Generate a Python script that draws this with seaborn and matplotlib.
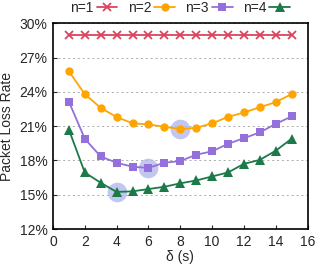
import numpy as np
import pandas as pd
import matplotlib
matplotlib.use("Agg")
import matplotlib.pyplot as plt
import seaborn as sns
from matplotlib.ticker import FuncFormatter

# 数据
delta = list(range(1, 16))
n1 = [29.0] * 15
n2 = [25.8, 23.8, 22.6, 21.8, 21.25, 21.15, 20.95, 20.75, 20.85, 21.25, 21.8, 22.2, 22.65, 23.1, 23.8]
n3 = [23.15, 19.9, 18.35, 17.8, 17.45, 17.35, 17.8, 17.95, 18.5, 18.8, 19.45, 19.95, 20.45, 21.2, 21.85]
n4 = [20.7, 16.95, 16.05, 15.25, 15.3, 15.5, 15.7, 16.0, 16.25, 16.6, 16.95, 17.7, 18.05, 18.85, 19.9]
labels = ["n=1", "n=2", "n=3", "n=4"]
highlight_x = [8, 6, 4]
highlight_y = [20.75, 17.35, 15.25]

df = pd.DataFrame({"delta": delta * 4,
                   "rate": n1 + n2 + n3 + n4,
                   "n": sum([[l] * 15 for l in labels], [])})

sns.set_style("ticks")
plt.rcParams['font.family'] = ['Liberation Sans', 'DejaVu Sans']

colors = ["#d9455f", "#ffa500", "#9370db", "#1b7a48"]
markers = ["x", "o", "s", "^"]
sizes = [6, 6, 5.5, 6.5]

fig, ax = plt.subplots(figsize=(3.19, 2.67), dpi=100)

# 高亮圆
ax.scatter(highlight_x, highlight_y, s=200, color="#b4b8ec", alpha=0.8, zorder=1, linewidths=0)

for lab, c, m, ms in zip(labels, colors, markers, sizes):
    sub = df[df["n"] == lab]
    sns.lineplot(data=sub, x="delta", y="rate", ax=ax, color=c, marker=m,
                 markersize=ms, markeredgecolor=c, markeredgewidth=1.3 if m == "x" else 0,
                 linewidth=1.3, label=lab, zorder=3)

ax.set_xlim(0, 16)
ax.set_ylim(12, 30)
ax.set_xticks(range(0, 17, 2))
ax.set_yticks(range(12, 31, 3))
ax.yaxis.set_major_formatter(FuncFormatter(lambda v, p: f"{int(v)}%"))
ax.yaxis.grid(True, linestyle=(0, (2, 3)), color="#aaaaaa", linewidth=0.7)
ax.tick_params(labelsize=10, direction="in", length=3, pad=4)
for s in ax.spines.values():
    s.set_linewidth(1.2)
    s.set_color("black")
ax.set_xlabel("δ (s)", fontsize=10, labelpad=1)
ax.set_ylabel("Packet Loss Rate", fontsize=10, labelpad=4)

ax.legend(loc="lower center", bbox_to_anchor=(0.5, 1.0), ncol=4, frameon=False,
          markerfirst=False, fontsize=10, handlelength=1.5, handletextpad=0.2,
          columnspacing=0.75, borderaxespad=0.2)

fig.subplots_adjust(left=0.166, right=0.964, top=0.913, bottom=0.142)
fig.savefig("out.png", dpi=100)
